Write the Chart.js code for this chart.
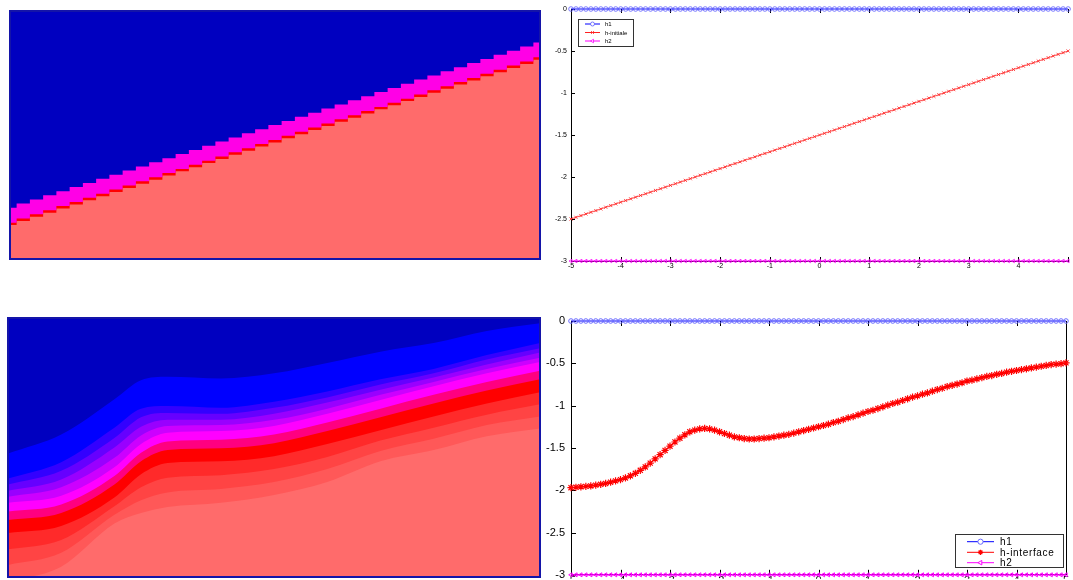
<!DOCTYPE html>
<html><head><meta charset="utf-8">
<script src="https://cdn.jsdelivr.net/npm/chart.js@4.4.1/dist/chart.umd.min.js"></script>
<style>
html,body{margin:0;padding:0;background:#fff;width:1073px;height:580px;overflow:hidden}
canvas{position:absolute;display:block}
</style></head><body>
<canvas id="tl" width="545" height="290" style="left:0;top:0;width:545px;height:290px"></canvas>
<canvas id="bl" width="545" height="290" style="left:0;top:290px;width:545px;height:290px"></canvas>
<canvas id="tr" width="528" height="300" style="left:545px;top:0;width:528px;height:300px"></canvas>
<canvas id="br" width="528" height="280" style="left:545px;top:300px;width:528px;height:280px"></canvas>
<script>
// ---------- data ----------
const X_TICKS = [-5,-4,-3,-2,-1,0,1,2,3,4,5];
const Y_TICKS = [0,-0.5,-1,-1.5,-2,-2.5,-3];

const XS = [-5,-4.9,-4.8,-4.7,-4.6,-4.5,-4.4,-4.3,-4.2,-4.1,
-4,-3.9,-3.8,-3.7,-3.6,-3.5,-3.4,-3.3,-3.2,-3.1,
-3,-2.9,-2.8,-2.7,-2.6,-2.5,-2.4,-2.3,-2.2,-2.1,
-2,-1.9,-1.8,-1.7,-1.6,-1.5,-1.4,-1.3,-1.2,-1.1,
-1,-0.9,-0.8,-0.7,-0.6,-0.5,-0.4,-0.3,-0.2,-0.1,
0,0.1,0.2,0.3,0.4,0.5,0.6,0.7,0.8,0.9,
1,1.1,1.2,1.3,1.4,1.5,1.6,1.7,1.8,1.9,
2,2.1,2.2,2.3,2.4,2.5,2.6,2.7,2.8,2.9,
3,3.1,3.2,3.3,3.4,3.5,3.6,3.7,3.8,3.9,
4,4.1,4.2,4.3,4.4,4.5,4.6,4.7,4.8,4.9,
5];

const H1 = [0,0,0,0,0,0,0,0,0,0, 0,0,0,0,0,0,0,0,0,0, 0,0,0,0,0,0,0,0,0,0,
0,0,0,0,0,0,0,0,0,0, 0,0,0,0,0,0,0,0,0,0, 0,0,0,0,0,0,0,0,0,0,
0,0,0,0,0,0,0,0,0,0, 0,0,0,0,0,0,0,0,0,0, 0,0,0,0,0,0,0,0,0,0,
0,0,0,0,0,0,0,0,0,0, 0];

const H2 = [-3,-3,-3,-3,-3,-3,-3,-3,-3,-3, -3,-3,-3,-3,-3,-3,-3,-3,-3,-3,
-3,-3,-3,-3,-3,-3,-3,-3,-3,-3, -3,-3,-3,-3,-3,-3,-3,-3,-3,-3,
-3,-3,-3,-3,-3,-3,-3,-3,-3,-3, -3,-3,-3,-3,-3,-3,-3,-3,-3,-3,
-3,-3,-3,-3,-3,-3,-3,-3,-3,-3, -3,-3,-3,-3,-3,-3,-3,-3,-3,-3,
-3,-3,-3,-3,-3,-3,-3,-3,-3,-3, -3,-3,-3,-3,-3,-3,-3,-3,-3,-3, -3];

const H_INITIALE = [-2.5,-2.48,-2.46,-2.44,-2.42,-2.4,-2.38,-2.36,-2.34,-2.32,
-2.3,-2.28,-2.26,-2.24,-2.22,-2.2,-2.18,-2.16,-2.14,-2.12,
-2.1,-2.08,-2.06,-2.04,-2.02,-2,-1.98,-1.96,-1.94,-1.92,
-1.9,-1.88,-1.86,-1.84,-1.82,-1.8,-1.78,-1.76,-1.74,-1.72,
-1.7,-1.68,-1.66,-1.64,-1.62,-1.6,-1.58,-1.56,-1.54,-1.52,
-1.5,-1.48,-1.46,-1.44,-1.42,-1.4,-1.38,-1.36,-1.34,-1.32,
-1.3,-1.28,-1.26,-1.24,-1.22,-1.2,-1.18,-1.16,-1.14,-1.12,
-1.1,-1.08,-1.06,-1.04,-1.02,-1,-0.98,-0.96,-0.94,-0.92,
-0.9,-0.88,-0.86,-0.84,-0.82,-0.8,-0.78,-0.76,-0.74,-0.72,
-0.7,-0.68,-0.66,-0.64,-0.62,-0.6,-0.58,-0.56,-0.54,-0.52,
-0.5];

const H_INTERFACE = [-1.97,-1.965,-1.96,-1.955,-1.95,-1.94,-1.93,-1.92,-1.905,-1.89,
-1.875,-1.855,-1.83,-1.8,-1.765,-1.725,-1.68,-1.63,-1.58,-1.53,
-1.48,-1.43,-1.385,-1.345,-1.31,-1.29,-1.275,-1.27,-1.275,-1.29,
-1.31,-1.33,-1.35,-1.37,-1.38,-1.39,-1.395,-1.395,-1.39,-1.385,
-1.38,-1.37,-1.36,-1.35,-1.34,-1.325,-1.31,-1.295,-1.28,-1.265,
-1.25,-1.235,-1.22,-1.2,-1.185,-1.165,-1.145,-1.13,-1.11,-1.09,
-1.07,-1.055,-1.035,-1.015,-0.995,-0.975,-0.96,-0.94,-0.92,-0.9,
-0.885,-0.865,-0.85,-0.83,-0.81,-0.795,-0.775,-0.76,-0.745,-0.73,
-0.71,-0.7,-0.685,-0.67,-0.655,-0.645,-0.63,-0.62,-0.605,-0.595,
-0.585,-0.575,-0.565,-0.555,-0.545,-0.535,-0.525,-0.515,-0.51,-0.505,
-0.495];

// top-left field: grid columns and band edges
const TL_X = [-5,-4.75,-4.5,-4.25,-4,-3.75,-3.5,-3.25,-3,-2.75,-2.5,-2.25,-2,-1.75,-1.5,-1.25,-1,-0.75,-0.5,-0.25,
0,0.25,0.5,0.75,1,1.25,1.5,1.75,2,2.25,2.5,2.75,3,3.25,3.5,3.75,4,4.25,4.5,4.75,5];
const TL_MAG_TOP = [-2.38,-2.33,-2.28,-2.23,-2.18,-2.13,-2.08,-2.03,-1.98,-1.93,-1.88,-1.83,-1.78,-1.73,-1.68,-1.63,-1.58,-1.53,-1.48,-1.43,
-1.38,-1.33,-1.28,-1.23,-1.18,-1.13,-1.08,-1.03,-0.98,-0.93,-0.88,-0.83,-0.78,-0.73,-0.68,-0.63,-0.58,-0.53,-0.48,-0.43,-0.38];
const TL_MAG_BOT = [-2.56,-2.51,-2.46,-2.41,-2.36,-2.31,-2.26,-2.21,-2.16,-2.11,-2.06,-2.01,-1.96,-1.91,-1.86,-1.81,-1.76,-1.71,-1.66,-1.61,
-1.56,-1.51,-1.46,-1.41,-1.36,-1.31,-1.26,-1.21,-1.16,-1.11,-1.06,-1.01,-0.96,-0.91,-0.86,-0.81,-0.76,-0.71,-0.66,-0.61,-0.56];
const TL_RED_BOT = [-2.59,-2.54,-2.49,-2.44,-2.39,-2.34,-2.29,-2.24,-2.19,-2.14,-2.09,-2.04,-1.99,-1.94,-1.89,-1.84,-1.79,-1.74,-1.69,-1.64,
-1.59,-1.54,-1.49,-1.44,-1.39,-1.34,-1.29,-1.24,-1.19,-1.14,-1.09,-1.04,-0.99,-0.94,-0.89,-0.84,-0.79,-0.74,-0.69,-0.64,-0.59];

// bottom-left field: contour levels (top to bottom)
const BL_X  = [-5,-4,-3,-2.5,-2,-1,0,1,2,3,4,5];
const BL_B1 = [-1.57,-1.35,-0.94,-0.72,-0.68,-0.70,-0.64,-0.52,-0.39,-0.29,-0.15,-0.06];
const BL_B2 = [-1.86,-1.67,-1.27,-1.05,-1.02,-1.04,-0.97,-0.85,-0.71,-0.59,-0.43,-0.29];
const BL_P1 = [-1.93,-1.77,-1.39,-1.15,-1.10,-1.11,-1.04,-0.92,-0.77,-0.64,-0.48,-0.35];
const BL_P2 = [-2.00,-1.87,-1.50,-1.26,-1.18,-1.18,-1.11,-0.98,-0.83,-0.69,-0.54,-0.40];
const BL_P3 = [-2.07,-1.96,-1.62,-1.36,-1.25,-1.24,-1.18,-1.05,-0.89,-0.74,-0.59,-0.46];
const BL_M1 = [-2.14,-2.06,-1.73,-1.46,-1.33,-1.31,-1.25,-1.11,-0.95,-0.79,-0.64,-0.51];
const BL_M2 = [-2.24,-2.16,-1.83,-1.56,-1.43,-1.41,-1.35,-1.21,-1.05,-0.89,-0.74,-0.61];
const BL_R1 = [-2.34,-2.26,-1.93,-1.66,-1.53,-1.51,-1.45,-1.31,-1.15,-0.99,-0.84,-0.71];
const BL_R2 = [-2.49,-2.41,-2.08,-1.81,-1.68,-1.66,-1.60,-1.46,-1.30,-1.14,-0.99,-0.86];
const BL_R3 = [-2.68,-2.57,-2.18,-1.96,-1.85,-1.82,-1.75,-1.61,-1.42,-1.27,-1.12,-1.00];
const BL_R4 = [-2.86,-2.72,-2.28,-2.11,-2.02,-1.98,-1.90,-1.75,-1.54,-1.40,-1.24,-1.14];
const BL_S  = [-3.05,-2.88,-2.38,-2.26,-2.19,-2.14,-2.05,-1.90,-1.66,-1.53,-1.37,-1.28];

// ---------- helpers ----------
const pts = (xs, ys) => xs.map((x, i) => ({x: x, y: ys[i]}));
const FONT = "'Liberation Sans', Arial, Helvetica, sans-serif";

const bgPlugin = {
  id: 'bgPlugin',
  beforeDatasetsDraw(chart, args, o) {
    const {ctx, chartArea: a} = chart;
    ctx.save(); ctx.fillStyle = o.color; ctx.fillRect(a.left, a.top, a.right - a.left, a.bottom - a.top); ctx.restore();
  },
  afterDraw(chart, args, o) {
    const {ctx, chartArea: a} = chart;
    ctx.save(); ctx.strokeStyle = o.border; ctx.lineWidth = 2;
    ctx.strokeRect(a.left, a.top, a.right - a.left, a.bottom - a.top); ctx.restore();
  }
};

const insideTicks = {
  id: 'insideTicks',
  beforeDatasetsDraw(chart, args, o) {
    const {ctx, chartArea: a} = chart;
    const x = chart.scales.x, y = chart.scales.y;
    ctx.save(); ctx.strokeStyle = '#000'; ctx.lineWidth = 1; ctx.beginPath();
    x.ticks.forEach(t => {
      const px = Math.round(x.getPixelForValue(t.value)) + 0.5;
      ctx.moveTo(px, a.bottom); ctx.lineTo(px, a.bottom - o.len);
      ctx.moveTo(px, a.top); ctx.lineTo(px, a.top + o.len);
    });
    y.ticks.forEach(t => {
      const py = Math.round(y.getPixelForValue(t.value)) + 0.5;
      ctx.moveTo(a.left, py); ctx.lineTo(a.left + o.len, py);
    });
    if (o.right) { ctx.moveTo(Math.round(a.right) + 0.5, a.top); ctx.lineTo(Math.round(a.right) + 0.5, a.bottom); }
    ctx.stroke(); ctx.restore();
  }
};

const boxLegend = {
  id: 'boxLegend',
  afterDraw(chart, args, o) {
    const ctx = chart.ctx;
    ctx.save();
    ctx.fillStyle = '#fff'; ctx.fillRect(o.x, o.y, o.w, o.h);
    ctx.strokeStyle = '#333'; ctx.lineWidth = 1; ctx.strokeRect(o.x + 0.5, o.y + 0.5, o.w, o.h);
    chart.data.datasets.forEach((ds, i) => {
      const yy = o.y + o.rows[i];
      ctx.strokeStyle = ds.borderColor; ctx.lineWidth = 1;
      ctx.beginPath(); ctx.moveTo(o.x + o.l1, yy); ctx.lineTo(o.x + o.l2, yy); ctx.stroke();
      ctx.strokeStyle = ds.pointBorderColor; ctx.fillStyle = '#fff'; ctx.lineWidth = ds.pointBorderWidth;
      const mx = o.x + (o.l1 + o.l2) / 2;
      if (Chart.helpers && Chart.helpers.drawPoint) {
        Chart.helpers.drawPoint(ctx, {pointStyle: ds.pointStyle, radius: o.mr, borderWidth: ds.pointBorderWidth, rotation: ds.pointRotation || 0}, mx, yy);
      } else {
        ctx.beginPath(); ctx.arc(mx, yy, o.mr, 0, Math.PI * 2); ctx.fill(); ctx.stroke();
      }
      ctx.fillStyle = '#000'; ctx.font = o.font; ctx.textBaseline = 'middle'; ctx.textAlign = 'left';
      if (o.spacing) ctx.letterSpacing = o.spacing;
      ctx.fillText(ds.label, o.x + o.tx, yy + 0.5);
    });
    ctx.restore();
  }
};

const baseOpts = () => ({
  responsive: false, animation: false, events: [],
  plugins: {legend: {display: false}, tooltip: {enabled: false}}
});

// ---------- top-left field ----------
new Chart(document.getElementById('tl'), {
  type: 'line',
  data: {datasets: [
    {data: pts(TL_X, TL_MAG_TOP), stepped: 'middle', borderWidth: 0, pointRadius: 0, fill: 'end', backgroundColor: '#0000C0'},
    {data: pts(TL_X, TL_MAG_BOT), stepped: 'middle', borderWidth: 0, pointRadius: 0, fill: 'end', backgroundColor: '#FF00E6'},
    {data: pts(TL_X, TL_RED_BOT), stepped: 'middle', borderWidth: 0, pointRadius: 0, fill: 'end', backgroundColor: '#FF0000'}
  ]},
  options: Object.assign(baseOpts(), {
    layout: {padding: {left: 10, top: 11, right: 5, bottom: 31}},
    scales: {x: {type: 'linear', min: -5, max: 5, display: false}, y: {type: 'linear', min: -3, max: 0, display: false}},
    plugins: {legend: {display: false}, tooltip: {enabled: false}, bgPlugin: {color: '#FF6B6B', border: '#1414A8'}}
  }),
  plugins: [bgPlugin]
});

// ---------- bottom-left field ----------
const BL_LEVELS = [BL_B1, BL_B2, BL_P1, BL_P2, BL_P3, BL_M1, BL_M2, BL_R1, BL_R2, BL_R3, BL_R4, BL_S];
const BL_COLORS = ['#0000C0', '#0000FF', '#3300FF', '#6600FF', '#9900FF', '#CC00FF', '#FF00FF', '#FF0080', '#FF0000', '#FF2A2A', '#FF4444', '#FF5858'];
new Chart(document.getElementById('bl'), {
  type: 'line',
  data: {datasets: BL_LEVELS.map((lv, i) => ({
    data: pts(BL_X, lv), cubicInterpolationMode: 'monotone', borderWidth: 0, pointRadius: 0,
    fill: 'end', backgroundColor: BL_COLORS[i]
  }))},
  options: Object.assign(baseOpts(), {
    layout: {padding: {left: 8, top: 28, right: 5, bottom: 3}},
    scales: {x: {type: 'linear', min: -5, max: 5, display: false}, y: {type: 'linear', min: -3, max: 0, display: false}},
    plugins: {legend: {display: false}, tooltip: {enabled: false}, bgPlugin: {color: '#FF6B6B', border: '#1414A8'}}
  }),
  plugins: [bgPlugin]
});

// ---------- right charts ----------
function rightScales(fontSize, yWidth, xHeight, yPad, xPad, hideLast) {
  return {
    x: {
      type: 'linear', min: -5, max: 5,
      afterBuildTicks: s => { s.ticks = X_TICKS.map(v => ({value: v})); },
      afterFit: s => { s.height = xHeight; s.paddingLeft = 0; s.paddingRight = 0; },
      grid: {display: false, drawTicks: false},
      border: {display: true, color: '#000', width: 1},
      ticks: {font: {family: FONT, size: fontSize}, color: '#000', padding: xPad, maxRotation: 0, autoSkip: false,
              callback: v => (hideLast && v === 5) ? '' : String(v)}
    },
    y: {
      type: 'linear', min: -3, max: 0,
      afterBuildTicks: s => { s.ticks = Y_TICKS.map(v => ({value: v})); },
      afterFit: s => { s.width = yWidth; s.paddingTop = 0; s.paddingBottom = 0; },
      grid: {display: false, drawTicks: false},
      border: {display: true, color: '#000', width: 1},
      ticks: {font: {family: FONT, size: fontSize}, color: '#000', padding: yPad, autoSkip: false, callback: v => String(v)}
    }
  };
}

new Chart(document.getElementById('tr'), {
  type: 'line',
  data: {datasets: [
    {label: 'h1', data: pts(XS, H1), borderColor: '#0000FF', borderWidth: 1, pointStyle: 'circle', pointRadius: 2.3,
     pointBorderColor: '#5A5AFF', pointBackgroundColor: 'rgba(0,0,0,0)', pointBorderWidth: 0.8, clip: false},
    {label: 'h-initiale', data: pts(XS, H_INITIALE), borderColor: '#FF2020', borderWidth: 0.8, pointStyle: 'crossRot', pointRadius: 2.2,
     pointBorderColor: '#FF3030', pointBorderWidth: 0.9, clip: false},
    {label: 'h2', data: pts(XS, H2), borderColor: '#FF00FF', borderWidth: 1, pointStyle: 'triangle', pointRotation: -90, pointRadius: 2,
     pointBorderColor: '#FF00FF', pointBackgroundColor: 'rgba(0,0,0,0)', pointBorderWidth: 0.8, clip: false}
  ]},
  options: Object.assign(baseOpts(), {
    layout: {padding: {left: 0, top: 9, right: 4, bottom: 0}},
    scales: rightScales(7, 26, 39, 4, 1, true),
    plugins: {legend: {display: false}, tooltip: {enabled: false},
      insideTicks: {len: 4, right: false},
      boxLegend: {x: 33, y: 19, w: 55, h: 27, rows: [5, 13.5, 22], l1: 7, l2: 22, tx: 27, mr: 2, font: '6px ' + FONT}}
  }),
  plugins: [insideTicks, boxLegend]
});

new Chart(document.getElementById('br'), {
  type: 'line',
  data: {datasets: [
    {label: 'h1', data: pts(XS, H1), borderColor: '#0000FF', borderWidth: 1.2, pointStyle: 'circle', pointRadius: 2.3,
     pointBorderColor: '#6A6AFF', pointBackgroundColor: 'rgba(0,0,0,0)', pointBorderWidth: 1, clip: false},
    {label: 'h-interface', data: pts(XS, H_INTERFACE), borderColor: '#FF0000', borderWidth: 1.2, pointStyle: 'star', pointRadius: 3.6,
     pointBorderColor: '#FF0000', pointBorderWidth: 1.2, clip: false},
    {label: 'h2', data: pts(XS, H2), borderColor: '#FF00FF', borderWidth: 1.2, pointStyle: 'triangle', pointRotation: -90, pointRadius: 2.3,
     pointBorderColor: '#FF00FF', pointBackgroundColor: 'rgba(0,0,0,0)', pointBorderWidth: 1, clip: false}
  ]},
  options: Object.assign(baseOpts(), {
    layout: {padding: {left: 0, top: 21, right: 7, bottom: 0}},
    scales: rightScales(11, 26, 4, 6, 0, false),
    plugins: {legend: {display: false}, tooltip: {enabled: false},
      insideTicks: {len: 5, right: true},
      boxLegend: {x: 410, y: 234, w: 108, h: 33, rows: [7.7, 18.3, 28.7], l1: 12, l2: 39, tx: 45, mr: 2.6, font: '10px ' + FONT, spacing: '0.65px'}}
  }),
  plugins: [insideTicks, boxLegend]
});
</script>
</body></html>
